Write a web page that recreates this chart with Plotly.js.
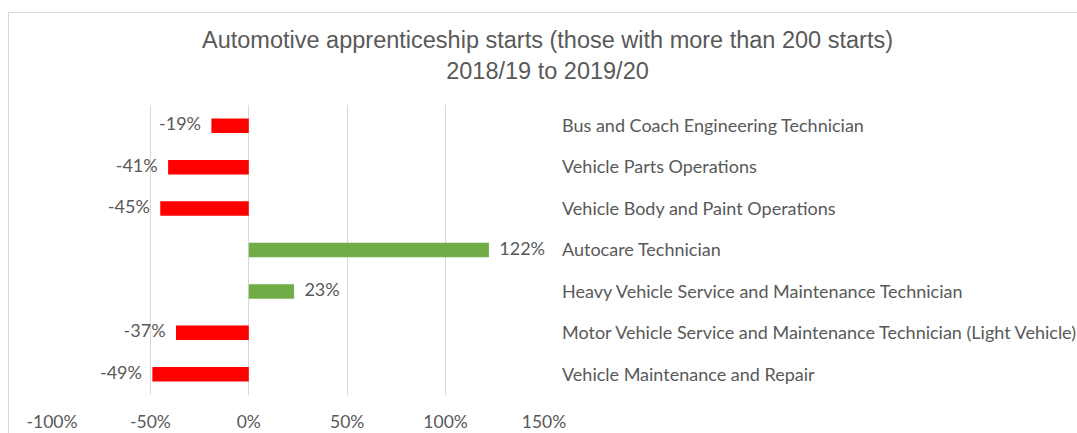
<!DOCTYPE html>
<html>
<head>
<meta charset="utf-8">
<script src="https://cdn.plot.ly/plotly-3.0.1.min.js"></script>
<style>
html,body{margin:0;padding:0;background:#fff;overflow:hidden;}
#chart{width:1077px;height:433px;}
</style>
</head>
<body>
<div id="chart"></div>
<script>
var categories = [
  "Bus and Coach Engineering Technician",
  "Vehicle Parts Operations",
  "Vehicle Body and Paint Operations",
  "Autocare Technician",
  "Heavy Vehicle Service and Maintenance Technician",
  "Motor Vehicle Service and Maintenance Technician (Light Vehicle)",
  "Vehicle Maintenance and Repair"
];
var changePct = [-19, -41, -45, 122, 23, -37, -49];
var xTickVals = [-100, -50, 0, 50, 100, 150];
var xTickText = ["-100%", "-50%", "0%", "50%", "100%", "150%"];
var titleText = "Automotive apprenticeship starts (those with more than 200 starts)<br>2018/19 to 2019/20";

var RED = "#FF0000", GREEN = "#70AD47", TXT = "#595959", GRID = "#D9D9D9";
var FONT = "Lato, 'Open Sans', sans-serif";
var barColors = changePct.map(function(v){ return v < 0 ? RED : GREEN; });
var labels = changePct.map(function(v){ return v + "%"; });
var labelPos = changePct.map(function(v){ return v < 0 ? "middle left" : "middle right"; });

var W = 1077, H = 433;
var L = 52, R = 533, T = 105, B = 38;
var pw = W - L - R, ph = H - T - B;

var traces = [
  {
    type: "bar", orientation: "h",
    x: changePct, y: categories,
    marker: {color: barColors, line: {width: 0}},
    hoverinfo: "x+y"
  },
  {
    type: "scatter", mode: "markers+text",
    x: changePct, y: categories,
    text: labels, textposition: labelPos,
    textfont: {family: FONT, size: 18, color: TXT},
    marker: {size: 15, color: "rgba(0,0,0,0)", line: {width: 0}},
    hoverinfo: "skip", cliponaxis: false
  }
];

var layout = {
  width: W, height: H,
  margin: {l: L, r: R, t: T, b: B, pad: 0, autoexpand: false},
  paper_bgcolor: "#ffffff", plot_bgcolor: "rgba(0,0,0,0)",
  showlegend: false,
  bargap: 0.65,
  title: {
    text: titleText, automargin: false,
    font: {family: "'Liberation Sans', Arial, sans-serif", size: 23.5, color: TXT},
    xref: "container", x: 547.5 / W, xanchor: "center",
    yref: "container", y: 1 - 48 / H, yanchor: "top"
  },
  xaxis: {
    range: [-100, 150], automargin: false,
    tickvals: xTickVals, ticktext: xTickText,
    showgrid: true, gridcolor: GRID, gridwidth: 1,
    zeroline: false, showline: false, ticks: "",
    tickfont: {family: FONT, size: 17.5, color: TXT},
    ticklabelstandoff: 14,
    fixedrange: true
  },
  yaxis: {
    type: "category",
    categoryorder: "array", categoryarray: categories,
    range: [categories.length - 0.5, -0.5],
    side: "right",
    showgrid: false, zeroline: false, showline: false, ticks: "",
    tickfont: {family: FONT, size: 18, color: TXT},
    ticklabelstandoff: 17,
    automargin: false,
    fixedrange: true
  },
  shapes: [{
    type: "rect", xref: "paper", yref: "paper",
    x0: (8.5 - L) / pw, x1: (W + 20 - L) / pw,
    y0: (H - B - (H + 20)) / ph, y1: (H - B - 12.5) / ph,
    line: {color: GRID, width: 1}, fillcolor: "rgba(0,0,0,0)", layer: "below"
  }]
};

Plotly.newPlot("chart", traces, layout, {displayModeBar: false, staticPlot: true});
</script>
</body>
</html>
